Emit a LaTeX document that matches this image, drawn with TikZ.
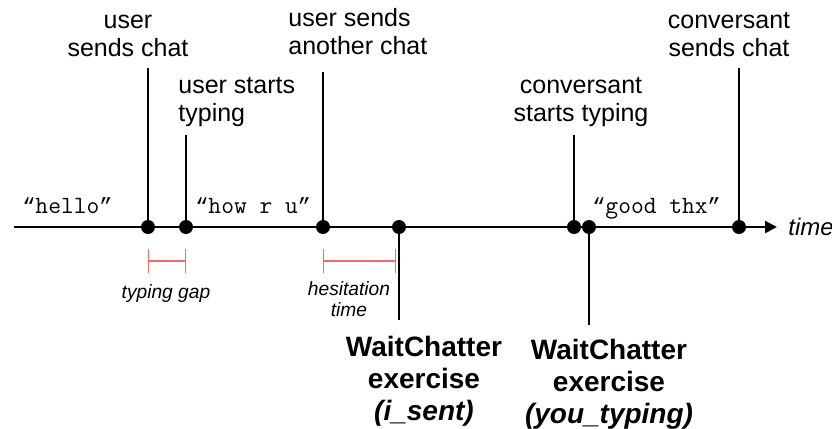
\documentclass[tikz,border=0pt]{standalone}
\usepackage{fontspec}
\setmainfont{Liberation Sans}
\newfontfamily\qfont[Scale=0.88]{Liberation Mono}
\usetikzlibrary{arrows.meta}
\definecolor{gapred}{RGB}{245,105,105}
\newcommand\chatq[1]{{\qfont“}#1{\qfont”}}

\tikzset{
  evt/.style={circle,fill=black,inner sep=0pt,minimum size=7pt},
  toplbl/.style={inner sep=0pt,font=\fontsize{12.5}{14}\selectfont},
  botlbl/.style={inner sep=0pt,align=center,font=\fontsize{14}{16}\selectfont\bfseries},
  msg/.style={inner sep=0pt,anchor=base west,font=\fontsize{12.4}{14}\selectfont\ttfamily},
  gaplbl/.style={inner sep=0pt,align=center,font=\fontsize{9.6}{10.5}\selectfont\itshape},
  gapbar/.style={color=gapred,line width=0.6pt,{Bar[width=12pt]}-{Bar[width=12pt]}},
  stem/.style={line width=1.3pt,shorten >=5.5pt}
}

\begin{document}
\begin{tikzpicture}[x=0.5pt,y=-0.5pt]
  \useasboundingbox (0,0) rectangle (832,429);
  % events on the time line
  \foreach \n/\x in {d1/148,d2/186,d3/323,d4/399,d5/574,d6/589,d7/739}
    \node[evt] (\n) at (\x,227) {};
  \coordinate (t0) at (14,227);
  \node[anchor=west,inner sep=0pt,font=\fontsize{12}{14}\selectfont\itshape] (tm) at (788,227) {time};
  \draw[line width=1.3pt,shorten >=5.5pt,-{Triangle[length=6pt,width=6pt]}] (t0) -- (tm.west);

  % labels above
  \node[toplbl,anchor=south,align=center] (l1) at (128,57) {user\\sends chat};
  \node[toplbl,anchor=south west,align=left] (l2) at (178,127) {user starts\\typing};
  \node[toplbl,anchor=south west,align=left] (l3) at (288,55) {user sends\\another chat};
  \node[toplbl,anchor=south,align=center] (l5) at (581,127) {conversant\\starts typing};
  \node[toplbl,anchor=south,align=center] (l7) at (729,57) {conversant\\sends chat};
  \draw[stem] (d1) -- (d1 |- l1.south);
  \draw[stem,shorten >=4pt] (d2) -- (d2 |- l2.south);
  \draw[stem,shorten >=8.5pt] (d3) -- (d3 |- l3.south);
  \draw[stem,shorten >=4pt] (d5) -- (d5 |- l5.south);
  \draw[stem] (d7) -- (d7 |- l7.south);

  % labels below
  \node[botlbl,anchor=north] (b4) at (424,336) {WaitChatter\\exercise\\\textit{(i\_sent)}};
  \node[botlbl,anchor=north] (b6) at (609,339) {WaitChatter\\exercise\\\textit{(you\_typing)}};
  \draw[stem,shorten >=8pt] (d4) -- (d4 |- b4.north);
  \draw[stem,shorten >=7pt] (d6) -- (d6 |- b6.north);

  % chat texts
  \node[msg] (m1) at (22,213) {\chatq{hello}};
  \node[msg] (m2) at (195,213) {\chatq{how r u}};
  \node[msg] (m3) at (592,213) {\chatq{good thx}};

  % gaps
  \draw[gapbar] ([yshift=-17pt]d1.center) -- ([yshift=-17pt]d2.center);
  \draw[gapbar] ([yshift=-17pt]d3.center) -- ([yshift=-17pt,xshift=-1.5pt]d4.center);
  \node[gaplbl,anchor=base] (g1) at (166,298) {typing gap};
  \node[gaplbl,anchor=north] (g2) at (349,281) {hesitation\\time};
\end{tikzpicture}
\end{document}
